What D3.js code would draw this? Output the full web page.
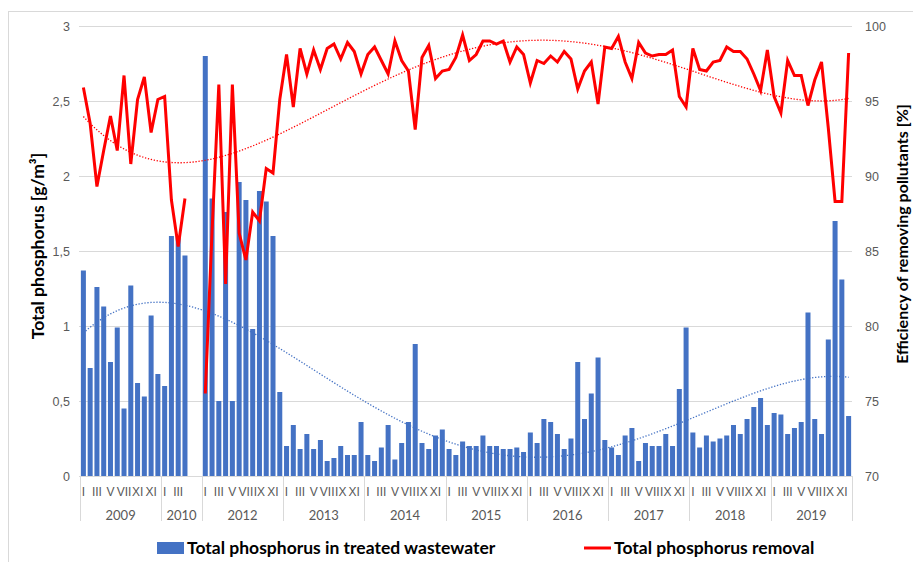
<!DOCTYPE html>
<html>
<head>
<meta charset="utf-8">
<script src="https://cdn.jsdelivr.net/npm/d3@7"></script>
<style>
	body { margin: 0; background: #fff; }
	svg { display: block; font-family: Lato, 'Open Sans', sans-serif; }
</style>
</head>
<body>
<div id="chart"></div>
<script>

// year groups on the category axis
const years = ['2009', '2010', '2012', '2013', '2014', '2015', '2016', '2017', '2018', '2019']
const months = ['I', 'II', 'III', 'IV', 'V', 'VI', 'VII', 'VIII', 'IX', 'X', 'XI', 'XII']
const months2009 = ['I', 'II', 'III', 'IV', 'V', 'VI', 'VII', 'VIII', 'XI', 'X', 'XI', 'XII']
const months2010 = ['I', 'II', 'III', 'IV', '', '']

// total phosphorus in treated wastewater [g/m3]
const phosphorus = [
	1.37, 0.72, 1.26, 1.13, 0.76, 0.99, 0.45, 1.27, 0.62, 0.53, 1.07, 0.68,
	0.60, 1.60, 1.60, 1.47, null, null,
	2.80, 1.85, 0.50, 1.76, 0.50, 1.96, 1.84, 0.98, 1.90, 1.83, 1.60, 0.56,
	0.20, 0.34, 0.18, 0.28, 0.18, 0.24, 0.10, 0.12, 0.20, 0.14, 0.14, 0.36,
	0.14, 0.10, 0.19, 0.34, 0.11, 0.22, 0.36, 0.88, 0.22, 0.18, 0.27, 0.31,
	0.18, 0.14, 0.23, 0.20, 0.20, 0.27, 0.20, 0.20, 0.18, 0.18, 0.19, 0.16,
	0.29, 0.22, 0.38, 0.36, 0.28, 0.18, 0.25, 0.76, 0.38, 0.55, 0.79, 0.24,
	0.19, 0.14, 0.27, 0.32, 0.10, 0.22, 0.20, 0.20, 0.28, 0.20, 0.58, 0.99,
	0.29, 0.19, 0.27, 0.23, 0.25, 0.27, 0.34, 0.28, 0.38, 0.46, 0.52, 0.34,
	0.42, 0.41, 0.28, 0.32, 0.36, 1.09, 0.38, 0.28, 0.91, 1.70, 1.31, 0.40
]

// total phosphorus removal [%]
const removal = [
	95.9, 93.5, 89.3, 91.7, 94.0, 91.7, 96.7, 90.8, 95.1, 96.6, 92.9, 95.1,
	95.3, 88.4, 85.3, 88.5, null, null,
	75.5, 86.3, 96.1, 82.8, 96.1, 86.2, 84.4, 87.6, 87.0, 90.5, 90.2, 95.1,
	98.1, 94.6, 98.5, 96.8, 98.4, 97.1, 98.5, 98.8, 97.8, 98.9, 98.3, 96.8,
	98.1, 98.6, 97.7, 96.8, 99.0, 97.7, 97.0, 93.1, 97.9, 98.7, 96.5, 97.0,
	97.1, 97.9, 99.4, 97.7, 98.1, 99.0, 99.0, 98.8, 99.0, 97.6, 98.6, 98.1,
	96.2, 97.7, 97.5, 98.0, 97.6, 98.3, 97.8, 95.8, 97.0, 97.6, 94.8, 98.6,
	98.5, 99.3, 97.6, 96.5, 98.9, 98.2, 98.0, 98.1, 98.1, 98.4, 95.3, 94.6,
	98.5, 97.1, 97.0, 97.6, 97.7, 98.6, 98.3, 98.3, 97.8, 96.8, 95.7, 98.4,
	95.3, 94.2, 97.7, 96.7, 96.7, 94.7, 96.4, 97.6, 93.2, 88.3, 88.3, 98.2
]

const leftTicks = [0, 0.5, 1, 1.5, 2, 2.5, 3]
const rightTicks = [70, 75, 80, 85, 90, 95, 100]

// build flat category list
var groups = years.map(y => {
	var m = y == '2009' ? months2009 : (y == '2010' ? months2010 : months)
	return { year: y, months: m }
})
var cats = []
groups.forEach(g => {
	g.start = cats.length
	g.months.forEach(m => cats.push({ year: g.year, month: m, idx: cats.length }))
	g.end = cats.length - 1
})

var width = 913
var height = 562
var margin = { left: 80, right: 61, top: 26, bottom: 86 }

var svg = d3.select('#chart')
	.append('svg')
	.attr('width', width)
	.attr('height', height)

// chart area border
svg.append('rect')
	.attr('x', 8.5).attr('y', 11.5)
	.attr('width', 1000).attr('height', 1000)
	.attr('fill', 'none')
	.attr('stroke', '#d9d9d9')

var x = d3.scaleBand()
	.domain(cats.map(d => d.idx))
	.range([margin.left, width - margin.right])
	.padding(0)

var yL = d3.scaleLinear().domain([0, 3]).range([height - margin.bottom, margin.top])
var yR = d3.scaleLinear().domain([70, 100]).range([height - margin.bottom, margin.top])

// gridlines
svg.append('g')
	.selectAll('line')
	.data(leftTicks)
	.enter()
	.append('line')
	.attr('x1', margin.left - 1)
	.attr('x2', width - margin.right)
	.attr('y1', d => Math.round(yL(d)) + 0.5)
	.attr('y2', d => Math.round(yL(d)) + 0.5)
	.attr('stroke', '#d9d9d9')
	.attr('stroke-width', 1)

// left axis labels
var axL = svg.append('g')
	.attr('transform', 'translate(' + (margin.left - 7) + ',0)')
	.call(d3.axisLeft(yL).tickValues(leftTicks).tickSize(0).tickFormat(d => String(d).replace('.', ',')))
axL.select('.domain').remove()
axL.selectAll('text').style('font-size', '12.5px').attr('fill', '#595959')

// right axis labels
var axR = svg.append('g')
	.attr('transform', 'translate(' + (width - margin.right + 10) + ',0)')
	.call(d3.axisRight(yR).tickValues(rightTicks).tickSize(0))
axR.select('.domain').remove()
axR.selectAll('text').style('font-size', '12.5px').attr('fill', '#595959')

// bars
var bw = x.bandwidth() * 0.74
svg.append('g')
	.selectAll('rect')
	.data(cats.filter(d => phosphorus[d.idx] != null))
	.enter()
	.append('rect')
	.attr('x', d => x(d.idx) + (x.bandwidth() - bw) / 2)
	.attr('y', d => yL(phosphorus[d.idx]))
	.attr('width', bw)
	.attr('height', d => yL(0) - yL(phosphorus[d.idx]))
	.attr('fill', '#4472c4')

// polynomial trendline (order 4), like the excel one
function polyFit(vals, order) {
	var n = vals.length - 1
	var pts = []
	vals.forEach((v, i) => { if (v != null) pts.push([i / n, v]) })
	var m = order + 1
	var A = [], b = []
	for (var r = 0; r < m; r++) {
		A.push(new Array(m).fill(0))
		b.push(0)
	}
	pts.forEach(p => {
		for (var r = 0; r < m; r++) {
			for (var c = 0; c < m; c++) A[r][c] += Math.pow(p[0], r + c)
			b[r] += p[1] * Math.pow(p[0], r)
		}
	})
	// gaussian elimination
	for (var k = 0; k < m; k++) {
		var piv = k
		for (var r = k + 1; r < m; r++) if (Math.abs(A[r][k]) > Math.abs(A[piv][k])) piv = r
		var tmp = A[k]; A[k] = A[piv]; A[piv] = tmp
		var tb = b[k]; b[k] = b[piv]; b[piv] = tb
		for (var r = k + 1; r < m; r++) {
			var f = A[r][k] / A[k][k]
			for (var c = k; c < m; c++) A[r][c] -= f * A[k][c]
			b[r] -= f * b[k]
		}
	}
	var coef = new Array(m).fill(0)
	for (var r = m - 1; r >= 0; r--) {
		var s = b[r]
		for (var c = r + 1; c < m; c++) s -= A[r][c] * coef[c]
		coef[r] = s / A[r][r]
	}
	return t => coef.reduce((acc, c, j) => acc + c * Math.pow(t / n, j), 0)
}

var trendSteps = d3.range(0, cats.length - 1 + 0.001, 0.25)
var cx = i => x(0) + x.bandwidth() / 2 + i * x.step()

var fitP = polyFit(phosphorus, 4)
svg.append('path')
	.datum(trendSteps)
	.attr('d', d3.line().x(cx).y(t => yL(fitP(t))))
	.attr('fill', 'none')
	.attr('stroke', '#4472c4')
	.attr('stroke-width', 1.3)
	.attr('stroke-dasharray', '1.3,1.7')

var fitR = polyFit(removal, 4)
svg.append('path')
	.datum(trendSteps)
	.attr('d', d3.line().x(cx).y(t => yR(fitR(t))))
	.attr('fill', 'none')
	.attr('stroke', '#ff0000')
	.attr('stroke-width', 1.3)
	.attr('stroke-dasharray', '1.3,1.7')

// removal line
var line = d3.line()
	.defined(d => removal[d.idx] != null)
	.x(d => x(d.idx) + x.bandwidth() / 2)
	.y(d => yR(removal[d.idx]))

svg.append('path')
	.datum(cats)
	.attr('d', line)
	.attr('fill', 'none')
	.attr('stroke', '#ff0000')
	.attr('stroke-width', 3)
	.attr('stroke-linejoin', 'miter')

// category axis: months, every second label
var axX = svg.append('g')
	.attr('transform', 'translate(0,' + yL(0) + ')')
	.call(d3.axisBottom(x).tickSize(0).tickFormat(i => i % 2 == 0 ? cats[i].month : ''))
axX.select('.domain').remove()
axX.selectAll('text')
	.attr('dy', 0)
	.attr('y', 20)
	.style('font-size', '12px')
	.attr('fill', '#595959')

// year separators and labels
var bounds = groups.map(g => x(g.start)).concat([x(cats.length - 1) + x.bandwidth()])
svg.append('g')
	.selectAll('line')
	.data(bounds)
	.enter()
	.append('line')
	.attr('x1', d => Math.round(d) + 0.5)
	.attr('x2', d => Math.round(d) + 0.5)
	.attr('y1', yL(0))
	.attr('y2', 521)
	.attr('stroke', '#d9d9d9')

svg.append('g')
	.selectAll('text')
	.data(groups)
	.enter()
	.append('text')
	.attr('x', g => (x(g.start) + x(g.end) + x.bandwidth()) / 2)
	.attr('y', 520)
	.attr('text-anchor', 'middle')
	.style('font-size', '13px')
	.attr('fill', '#595959')
	.text(g => g.year)

// axis titles
svg.append('text')
	.attr('transform', 'translate(44,246) rotate(-90)')
	.attr('text-anchor', 'middle')
	.style('font-size', '17.5px')
	.style('font-weight', 'bold')
	.attr('fill', '#000')
	.text('Total phosphorus [g/m³]')

svg.append('text')
	.attr('transform', 'translate(908,234) rotate(-90)')
	.attr('text-anchor', 'middle')
	.style('font-size', '16px')
	.style('font-weight', 'bold')
	.attr('fill', '#000')
	.text('Efficiency of removing pollutants [%]')

// legend
var legend = svg.append('g')
legend.append('rect')
	.attr('x', 157).attr('y', 542)
	.attr('width', 27).attr('height', 12)
	.attr('fill', '#4472c4')
legend.append('text')
	.attr('x', 187).attr('y', 554)
	.style('font-size', '17.5px')
	.style('font-weight', 'bold')
	.text('Total phosphorus in treated wastewater')
legend.append('line')
	.attr('x1', 584).attr('x2', 611)
	.attr('y1', 548).attr('y2', 548)
	.attr('stroke', '#ff0000')
	.attr('stroke-width', 3)
legend.append('text')
	.attr('x', 614).attr('y', 554)
	.style('font-size', '17.5px')
	.style('font-weight', 'bold')
	.text('Total phosphorus removal')

</script>
</body>
</html>
